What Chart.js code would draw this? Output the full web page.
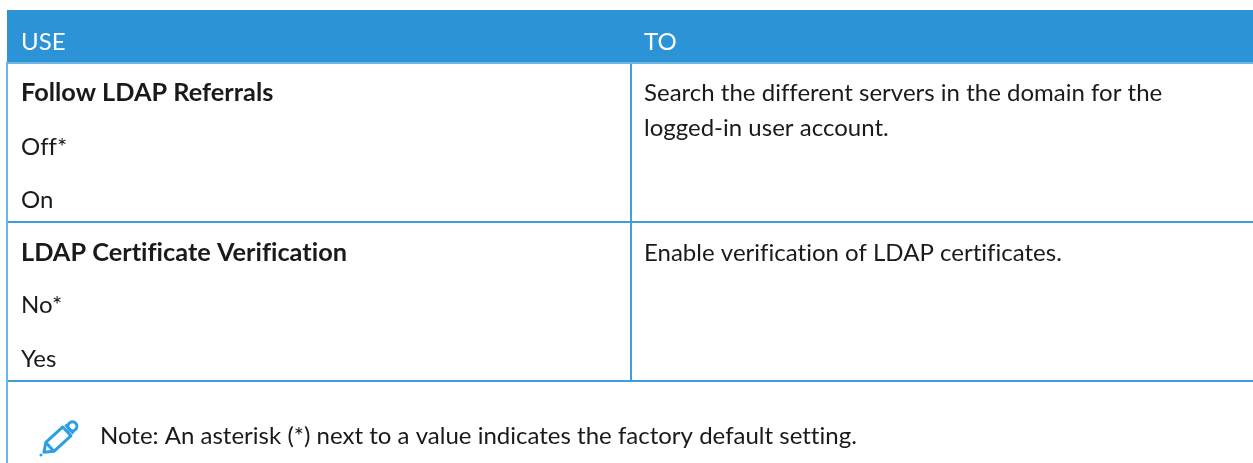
<!DOCTYPE html>
<html><head><meta charset="utf-8">
<style>html,body{margin:0;padding:0;background:#fff}#wrap{width:1253px;height:463px}canvas{display:block}</style>
<script src="https://cdn.jsdelivr.net/npm/chart.js@4/dist/chart.umd.min.js"></script>
</head><body><div id="wrap"><canvas id="c"></canvas></div>
<script>
const columnHeaders = ["USE", "TO"];
const useLines = ["Follow LDAP Referrals", "Off*", "On", "LDAP Certificate Verification", "No*", "Yes"];
const useBold = [true, false, false, true, false, false];
const useBaselines = [101, 155, 208, 261, 313, 367];
const toLines = ["Search the different servers in the domain for the", "logged-in user account.", "Enable verification of LDAP certificates."];
const toBaselines = [101, 136, 261];
const noteText = "Note: An asterisk (*) next to a value indicates the factory default setting.";

const FONT = 'Lato';
const BLUE = '#2b93d6', LINE = '#3f9fdc', LIGHT = '#6db7e6', ICON = '#2b9fe3';
const seg = (x0,y0,x1,y1,color,w) => ({type:'line',data:[{x:x0,y:y0},{x:x1,y:y1}],borderColor:color,borderWidth:w,pointRadius:0,borderCapStyle:'butt',fill:false,parsing:false});

const textPlugin = {id:'tableText',afterDatasetsDraw(chart){
  const {ctx,scales:{x,y}} = chart;
  ctx.save();ctx.textBaseline='alphabetic';ctx.textAlign='left';
  ctx.letterSpacing='0.01px';
  const put=(t,px,py,color,font)=>{ctx.fillStyle=color;ctx.font=font;ctx.fillText(t,x.getPixelForValue(px),y.getPixelForValue(py));};
  const reg='24px '+FONT, bold='700 25.3px '+FONT;
  put(columnHeaders[0],21,50,'#ffffff',reg);
  put(columnHeaders[1],644,50,'#ffffff',reg);
  useLines.forEach((t,i)=>put(t,21,useBaselines[i],'#1a1a1a',useBold[i]?bold:reg));
  toLines.forEach((t,i)=>put(t,644,toBaselines[i],'#1a1a1a',reg));
  put(noteText,100,444,'#1a1a1a',reg);
  // pencil icon, drawn along its own axis
  ctx.translate(x.getPixelForValue(41),y.getPixelForValue(455));
  ctx.rotate(-42.4*Math.PI/180);
  ctx.strokeStyle=ICON;ctx.fillStyle=ICON;ctx.lineWidth=3;ctx.lineJoin='round';
  ctx.beginPath();ctx.arc(0,0,1.5,0,Math.PI*2);ctx.fill();
  ctx.beginPath();ctx.moveTo(4,0);ctx.lineTo(12,-6);ctx.lineTo(35,-6);ctx.lineTo(35,6);ctx.lineTo(12,6);ctx.closePath();ctx.stroke();
  ctx.beginPath();ctx.moveTo(12,-6);ctx.lineTo(12,6);ctx.stroke();
  ctx.beginPath();ctx.arc(42.5,0,4.5,0,Math.PI*2);ctx.stroke();
  ctx.beginPath();ctx.moveTo(38.5,-6);ctx.lineTo(38.5,6);ctx.stroke();
  ctx.restore();
}};

new Chart(document.getElementById('c'),{
  type:'line',
  data:{datasets:[
    seg(7,36,1253,36,BLUE,52),
    seg(631,10,631,62,'#ffffff',2),
    seg(6,63,1253,63,LIGHT,2),
    seg(7,63,7,463,LIGHT,2),
    seg(631,64,631,380,LINE,2),
    seg(8,222,1253,222,LINE,2),
    seg(8,381,1253,381,LINE,2)
  ]},
  plugins:[textPlugin],
  options:{responsive:true,maintainAspectRatio:false,animation:false,
    layout:{padding:0},
    plugins:{legend:{display:false},tooltip:{enabled:false}},
    scales:{
      x:{type:'linear',min:0,max:1253,display:false},
      y:{type:'linear',min:0,max:463,reverse:true,display:false}
    }}
});
</script></body></html>
